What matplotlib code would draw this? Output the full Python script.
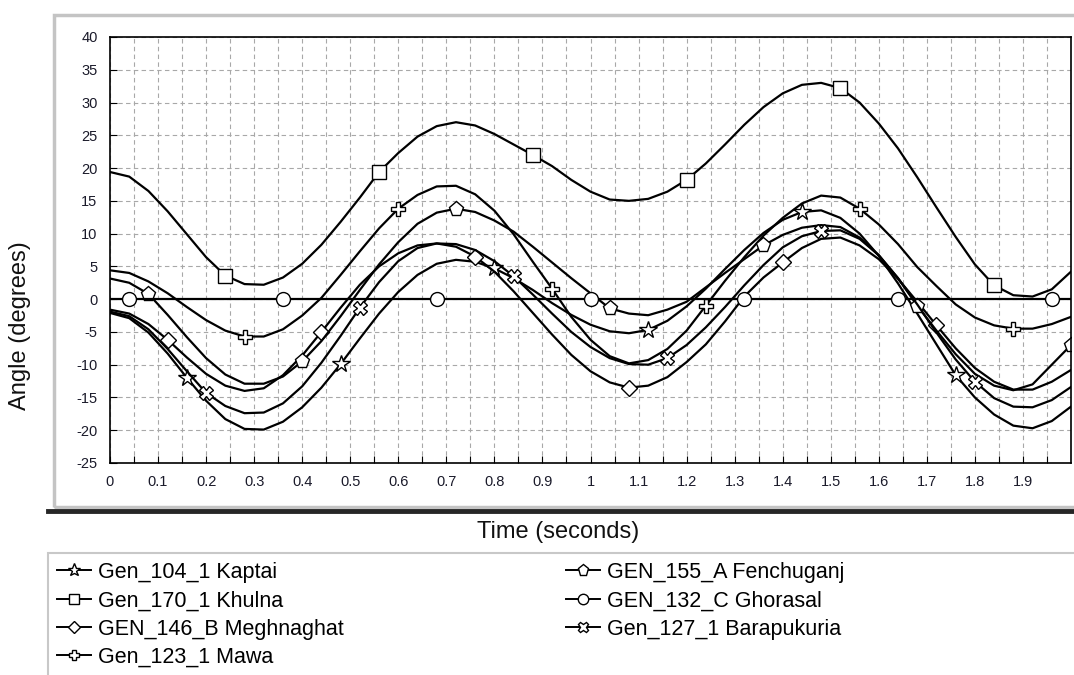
import numpy as np
import matplotlib.pyplot as plt
from matplotlib.lines import Line2D
from matplotlib.patches import Rectangle
from matplotlib.ticker import FixedLocator, FuncFormatter

plt.rcParams['font.family'] = ['Liberation Sans', 'DejaVu Sans']
plt.rcParams['axes.unicode_minus'] = False

# time axis, one sample every 0.04 s
time_s = np.linspace(0.0, 2.0, 51)

# rotor angles (degrees)
kaptai = [-2.1, -2.9, -5.1, -8.3, -12.0, -15.5, -18.3, -19.8, -19.9, -18.7,
          -16.5, -13.5, -9.9, -6.0, -2.2, 1.1, 3.7, 5.4, 6.0, 5.7,
          4.7, 3.2, 1.4, -0.6, -2.4, -3.9, -4.9, -5.2, -4.7, -3.3,
          -1.1, 1.6, 4.6, 7.5, 10.1, 12.1, 13.3, 13.55, 12.4, 10.0,
          6.6, 2.4, -2.2, -6.9, -11.6, -15.0, -17.6, -19.3, -19.7, -18.6, -16.4]
khulna = [19.4, 18.7, 16.5, 13.4, 9.9, 6.4, 3.6, 2.3, 2.2, 3.3,
          5.4, 8.3, 11.8, 15.5, 19.4, 22.3, 24.8, 26.4, 27.0, 26.5,
          25.2, 23.6, 22.0, 20.3, 18.2, 16.4, 15.2, 15.0, 15.3, 16.4,
          18.2, 20.7, 23.6, 26.6, 29.3, 31.4, 32.7, 33.0, 32.2, 30.0,
          26.8, 23.0, 18.6, 14.0, 9.5, 5.3, 2.1, 0.6, 0.4, 1.5, 4.2]
meghnaghat = [-1.6, -2.2, -3.8, -6.2, -8.9, -11.4, -13.2, -14.0, -13.6, -11.6,
              -8.6, -5.0, -1.3, 2.2, 5.0, 7.0, 8.2, 8.5, 8.0, 6.5,
              4.2, 1.2, -2.1, -5.4, -8.5, -11.0, -12.7, -13.5, -13.2, -11.9,
              -9.6, -6.9, -3.4, 0.4, 3.3, 5.6, 7.8, 9.2, 9.4, 8.2,
              6.1, 3.1, -0.4, -4.0, -7.5, -10.5, -12.6, -13.8, -13.8, -12.6, -10.8]
mawa = [4.4, 4.0, 2.7, 0.9, -1.2, -3.2, -4.8, -5.7, -5.7, -4.6,
        -2.5, 0.2, 3.7, 7.3, 10.8, 13.8, 15.9, 17.2, 17.3, 16.0,
        13.5, 9.9, 5.7, 1.6, -2.7, -6.2, -8.7, -9.8, -9.3, -7.6,
        -4.8, -1.0, 2.8, 6.4, 9.7, 12.4, 14.6, 15.8, 15.5, 13.8,
        11.4, 8.4, 4.9, 2.0, -0.8, -2.8, -4.0, -4.5, -4.5, -3.8, -2.7]
fenchuganj = [3.15, 2.5, 0.8, -2.4, -5.8, -9.0, -11.5, -12.9, -12.9, -11.8,
              -9.5, -6.4, -2.6, 1.4, 5.3, 8.7, 11.5, 13.2, 13.8, 13.3,
              12.0, 10.3, 8.0, 5.6, 3.2, 0.9, -1.4, -2.2, -2.45, -1.6,
              -0.4, 1.8, 4.0, 6.1, 8.2, 9.8, 10.9, 11.3, 11.0, 9.4,
              6.7, 3.2, -1.0, -4.8, -8.4, -11.4, -13.2, -13.9, -13.0, -10.0, -7.0]
ghorasal = [0.0] * 51
barapukuria = [-1.9, -2.6, -4.6, -7.6, -11.0, -14.3, -16.3, -17.4, -17.3, -15.9,
               -13.3, -9.7, -5.6, -1.3, 2.6, 5.8, 7.8, 8.5, 8.4, 7.5,
               5.8, 3.5, 0.7, -2.2, -5.0, -7.3, -9.0, -9.9, -10.0, -9.0,
               -7.0, -4.3, -1.2, 2.1, 5.2, 7.9, 9.6, 10.4, 10.5, 9.2,
               6.7, 3.2, -0.8, -5.1, -9.2, -12.6, -15.1, -16.4, -16.5, -15.4, -13.4]

names = ["Gen_104_1 Kaptai", "Gen_170_1 Khulna", "GEN_146_B Meghnaghat",
         "Gen_123_1 Mawa", "GEN_155_A Fenchuganj", "GEN_132_C Ghorasal",
         "Gen_127_1 Barapukuria"]
values = [kaptai, khulna, meghnaghat, mawa, fenchuganj, ghorasal, barapukuria]
# marker shape, first marked sample, marker size
styles = [("*", 4, 13), ("s", 6, 10), ("D", 3, 8), ("P", 7, 10),
          ("p", 2, 11), ("o", 1, 10), ("X", 5, 10)]

W, H = 1074, 675
fig = plt.figure(figsize=(W / 100, H / 100), dpi=100)
ax = fig.add_axes([110 / W, 1 - 463 / H, (1071 - 110) / W, (463 - 37) / H])

handles = []
for name, vals, (mk, start, ms) in zip(names, values, styles):
    ax.plot(time_s, vals, color="black", lw=1.6, marker=mk, markevery=(start, 8),
            ms=ms, mfc="white", mec="black", mew=1.0)
    handles.append(Line2D([], [], color="black", lw=1.4, marker=mk, ms=ms * 0.75,
                          mfc="white", mec="black", mew=1.0, label=name))

ax.set_xlim(0, 2.0)
ax.set_ylim(-25, 40)
ax.xaxis.set_major_locator(FixedLocator(np.arange(20) / 10))
ax.xaxis.set_minor_locator(FixedLocator(np.arange(1, 40, 2) / 20))
ax.yaxis.set_major_locator(FixedLocator(np.arange(-25, 41, 5)))
ax.xaxis.set_major_formatter(FuncFormatter(lambda v, p: f"{v:g}"))
ax.grid(True, which="both", axis="x", color="#a8a8a8", lw=0.8, ls=(0, (4, 3)))
ax.grid(True, which="major", axis="y", color="#a8a8a8", lw=0.8, ls=(0, (4, 3)))
ax.set_axisbelow(True)
ax.tick_params(which="both", direction="in", length=5, width=0.8, color="black",
               labelsize=10.5, labelcolor="#1a1a2a")
ax.tick_params(axis="y", pad=9)
ax.tick_params(axis="x", pad=9)
for sp in ax.spines.values():
    sp.set_linewidth(1.2)
    sp.set_color("black")

fig.text(558 / W, 1 - 532 / H, "Time (seconds)", ha="center", va="center",
         fontsize=17, color="#111111")
fig.text(20 / W, 1 - 326 / H, "Angle (degrees)", ha="center", va="center",
         rotation=90, fontsize=17, color="#111111")

# panel frames around plot and legend
fig.add_artist(Rectangle((54 / W, 1 - 507 / H), (W + 10 - 54) / W, (507 - 15) / H,
                         transform=fig.transFigure, fill=False, ec="#c4c4c4", lw=2.5))
fig.add_artist(Line2D([48 / W, 1], [1 - 511 / H] * 2, transform=fig.transFigure,
                      color="#262626", lw=3.5))
fig.add_artist(Rectangle((48 / W, -0.05), (W + 10 - 48) / W, 0.05 + 1 - 553 / H,
                         transform=fig.transFigure, fill=False, ec="#c8c8c8", lw=1.5))

leg_kw = dict(loc="upper left", frameon=False, fontsize=15.5, handlelength=1.6,
              handletextpad=0.3, labelspacing=0.34, borderpad=0, borderaxespad=0)
fig.legend(handles=handles[:4], bbox_to_anchor=(57 / W, 1 - 562 / H), **leg_kw)
fig.legend(handles=handles[4:], bbox_to_anchor=(566 / W, 1 - 562 / H), **leg_kw)

fig.savefig("out.png", dpi=100, facecolor="white")
